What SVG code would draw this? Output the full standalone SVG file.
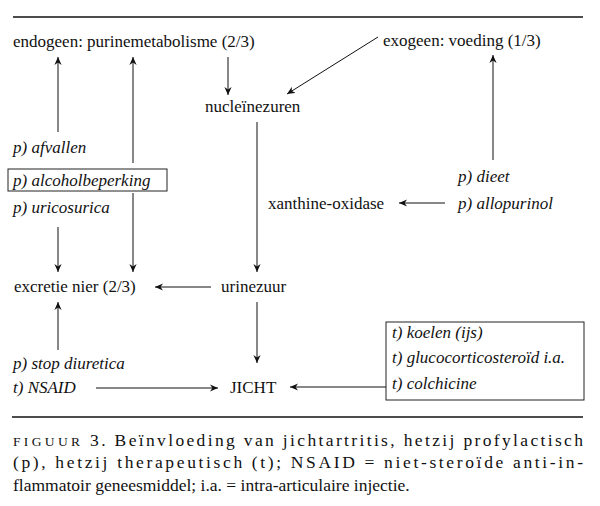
<svg xmlns="http://www.w3.org/2000/svg" width="600" height="506" viewBox="0 0 600 506">
<defs>
<marker id="ah" viewBox="0 0 10 10" refX="10" refY="5" markerWidth="8" markerHeight="8" markerUnits="userSpaceOnUse" orient="auto">
<path d="M0,0.5 L10,5 L0,9.5 L3,5 z" fill="#111"/>
</marker>
</defs>
<rect width="600" height="506" fill="#fff"/>
<g stroke="#111" stroke-width="1.6">
<line x1="13" y1="17" x2="583" y2="17"/>
<line x1="12" y1="417" x2="583" y2="417"/>
</g>

<g id="connectors" stroke="#111" stroke-width="1" fill="none" marker-end="url(#ah)">
<line x1="58" y1="132" x2="58" y2="57"/>
<line x1="133" y1="163" x2="133" y2="57"/>
<line x1="228" y1="57" x2="228" y2="95"/>
<line x1="378" y1="37" x2="287" y2="94"/>
<line x1="493" y1="160" x2="493" y2="55"/>
<line x1="257" y1="122" x2="257" y2="272"/>
<line x1="445" y1="203" x2="399" y2="203"/>
<line x1="58" y1="227" x2="58" y2="272"/>
<line x1="133" y1="193" x2="133" y2="272"/>
<line x1="211" y1="287" x2="155" y2="287"/>
<line x1="58" y1="350" x2="58" y2="302"/>
<line x1="257" y1="302" x2="257" y2="363"/>
<line x1="96" y1="388" x2="218" y2="388"/>
<line x1="386" y1="387" x2="290" y2="387"/>
</g>

<g font-size="17" fill="#111">
<g id="endogeen"><text font-family="Liberation Serif, serif" x="13" y="47">endogeen: purinemetabolisme (2/3)</text></g>
<g id="exogeen"><text font-family="Liberation Serif, serif" x="383" y="46">exogeen: voeding (1/3)</text></g>
<g id="nucleinezuren"><text font-family="Liberation Serif, serif" x="205" y="112">nucleïnezuren</text></g>
<g id="xanthine"><text font-family="Liberation Serif, serif" x="268" y="209">xanthine-oxidase</text></g>
<g id="excretie"><text font-family="Liberation Serif, serif" x="14" y="292">excretie nier (2/3)</text></g>
<g id="urinezuur"><text font-family="Liberation Serif, serif" x="221" y="292">urinezuur</text></g>
<g id="jicht"><text font-family="Liberation Serif, serif" x="230" y="393">JICHT</text></g>
<g font-style="italic">
<g id="afvallen"><text font-family="Liberation Serif, serif" x="13" y="153">p) afvallen</text></g>
<g id="alcoholbeperking"><rect x="8" y="169" width="159" height="22" fill="#fff" stroke="#222" stroke-width="1"/><text font-family="Liberation Serif, serif" x="13" y="186">p) alcoholbeperking</text></g>
<g id="uricosurica"><text font-family="Liberation Serif, serif" x="13" y="213">p) uricosurica</text></g>
<g id="dieet"><text font-family="Liberation Serif, serif" x="458" y="182">p) dieet</text></g>
<g id="allopurinol"><text font-family="Liberation Serif, serif" x="458" y="209">p) allopurinol</text></g>
<g id="stopdiuretica"><text font-family="Liberation Serif, serif" x="13" y="369">p) stop diuretica</text></g>
<g id="nsaid"><text font-family="Liberation Serif, serif" x="13" y="393">t) NSAID</text></g>
<g id="therapie"><rect x="386" y="322" width="198" height="78" fill="#fff" stroke="#222" stroke-width="1"/>
<text font-family="Liberation Serif, serif" x="392" y="338">t) koelen (ijs)</text>
<text font-family="Liberation Serif, serif" x="392" y="363">t) glucocorticosteroïd i.a.</text>
<text font-family="Liberation Serif, serif" x="392" y="389">t) colchicine</text></g>
</g>
<g id="caption" font-size="17.5">
<text font-family="Liberation Serif, serif" x="13" y="446" textLength="570" lengthAdjust="spacing"><tspan font-size="13.5" letter-spacing="1">FIGUUR</tspan> 3. Beïnvloeding van jichtartritis, hetzij profylactisch</text>
<text font-family="Liberation Serif, serif" x="13" y="468" textLength="570" lengthAdjust="spacing">(p), hetzij therapeutisch (t); NSAID = niet-steroïde anti-in-</text>
<text font-family="Liberation Serif, serif" x="13" y="491">flammatoir geneesmiddel; i.a. = intra-articulaire injectie.</text>
</g>
</g>
</svg>
